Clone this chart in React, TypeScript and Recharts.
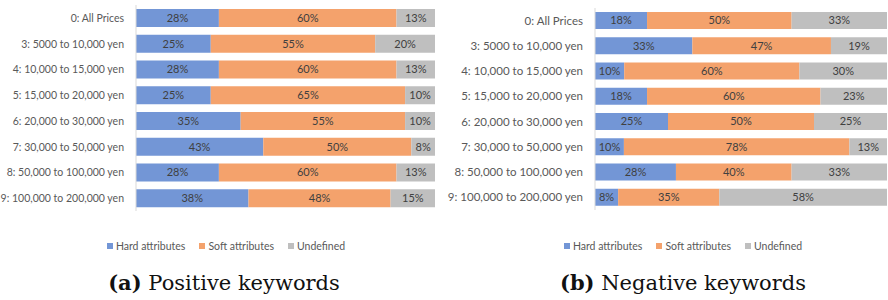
import { Bar, BarChart, LabelList, Legend, XAxis, YAxis } from "recharts";

const PRICE_BANDS = [
  "0: All Prices",
  "3: 5000 to 10,000 yen",
  "4: 10,000 to 15,000 yen",
  "5: 15,000 to 20,000 yen",
  "6: 20,000 to 30,000 yen",
  "7: 30,000 to 50,000 yen",
  "8: 50,000 to 100,000 yen",
  "9: 100,000 to 200,000 yen",
];

const POS_HARD = [28, 25, 28, 25, 35, 43, 28, 38];
const POS_SOFT = [60, 55, 60, 65, 55, 50, 60, 48];
const POS_UNDEF = [13, 20, 13, 10, 10, 8, 13, 15];

const NEG_HARD = [18, 33, 10, 18, 25, 10, 28, 8];
const NEG_SOFT = [50, 47, 60, 60, 50, 78, 40, 35];
const NEG_UNDEF = [33, 19, 30, 23, 25, 13, 33, 58];

const SERIES = [
  { key: "hard", name: "Hard attributes", color: "#7396d6" },
  { key: "soft", name: "Soft attributes", color: "#f4a26c" },
  { key: "undef", name: "Undefined", color: "#bfbfbf" },
];
const LABEL_FONT = "Lato, 'Open Sans', sans-serif";

function buildRows(hard: number[], soft: number[], undef: number[]) {
  return PRICE_BANDS.map((band, i) => ({ band, hard: hard[i], soft: soft[i], undef: undef[i] }));
}

function BandTick({ x, y, payload, size }: { x?: number; y?: number; payload?: { value: string }; size: number }) {
  return (
    <text x={x} y={y} dy={4} textAnchor="end" fill="#595959" fontSize={size} fontFamily={LABEL_FONT}>
      {payload?.value}
    </text>
  );
}

function LegendRow({ size }: { size: number }) {
  return (
    <div
      style={{
        display: "flex",
        justifyContent: "center",
        gap: 14,
        fontSize: size,
        fontFamily: LABEL_FONT,
        color: "#595959",
        whiteSpace: "nowrap",
      }}
    >
      {SERIES.map((s) => (
        <span key={s.key} style={{ display: "flex", alignItems: "center" }}>
          <span style={{ display: "inline-block", width: 6, height: 6, background: s.color, marginRight: 3 }} />
          {s.name}
        </span>
      ))}
    </div>
  );
}

type PanelProps = {
  rows: ReturnType<typeof buildRows>;
  axisWidth: number;
  top: number;
  bottom: number;
  right: number;
  barSize: number;
  legendCenter: number;
  tickSize: number;
};

function StackedPanel({ rows, axisWidth, top, bottom, right, barSize, legendCenter, tickSize }: PanelProps) {
  const pct = (v: unknown) => `${v}%`;
  const labelStyle = { fill: "#404040", fontSize: 11, fontFamily: LABEL_FONT };
  return (
    <BarChart
      width={444}
      height={260}
      data={rows}
      layout="vertical"
      stackOffset="expand"
      barCategoryGap={0}
      margin={{ top, right, bottom: 260 - bottom, left: 0 }}
    >
      <XAxis type="number" hide domain={[0, 1]} />
      <YAxis
        type="category"
        dataKey="band"
        width={axisWidth}
        tickLine={false}
        axisLine={{ stroke: "#d9d9d9" }}
        tick={<BandTick size={tickSize} />}
        tickMargin={6}
        interval={0}
      />
      <Legend
        content={<LegendRow size={10.5} />}
        wrapperStyle={{ top: 240, left: legendCenter - 150, width: 300 }}
      />
      {SERIES.map((s) => (
        <Bar
          key={s.key}
          dataKey={s.key}
          name={s.name}
          stackId="s"
          fill={s.color}
          barSize={barSize}
          isAnimationActive={false}
        >
          <LabelList dataKey={s.key} position="center" formatter={pct} style={labelStyle} />
        </Bar>
      ))}
    </BarChart>
  );
}

function Caption({ tag, text, center }: { tag: string; text: string; center: number }) {
  return (
    <div
      style={{
        position: "absolute",
        top: 270,
        left: center - 150,
        width: 300,
        textAlign: "center",
        fontFamily: "'DejaVu Serif', serif",
        fontSize: 21,
        color: "#111",
        whiteSpace: "nowrap",
      }}
    >
      <b>{tag}</b> {text}
    </div>
  );
}

export default function App() {
  return (
    <div style={{ position: "fixed", left: 0, top: 0, width: 888, height: 300, background: "#fff" }}>
      <div style={{ position: "absolute", left: 0, top: 0 }}>
        <StackedPanel
          rows={buildRows(POS_HARD, POS_SOFT, POS_UNDEF)}
          axisWidth={136}
          top={5}
          bottom={223}
          right={9}
          barSize={18}
          legendCenter={226}
          tickSize={10.5}
        />
      </div>
      <div style={{ position: "absolute", left: 444, top: 0 }}>
        <StackedPanel
          rows={buildRows(NEG_HARD, NEG_SOFT, NEG_UNDEF)}
          axisWidth={151}
          top={8}
          bottom={222}
          right={1}
          barSize={17}
          legendCenter={239}
          tickSize={11.5}
        />
      </div>
      <Caption tag="(a)" text="Positive keywords" center={224} />
      <Caption tag="(b)" text="Negative keywords" center={683} />
    </div>
  );
}
